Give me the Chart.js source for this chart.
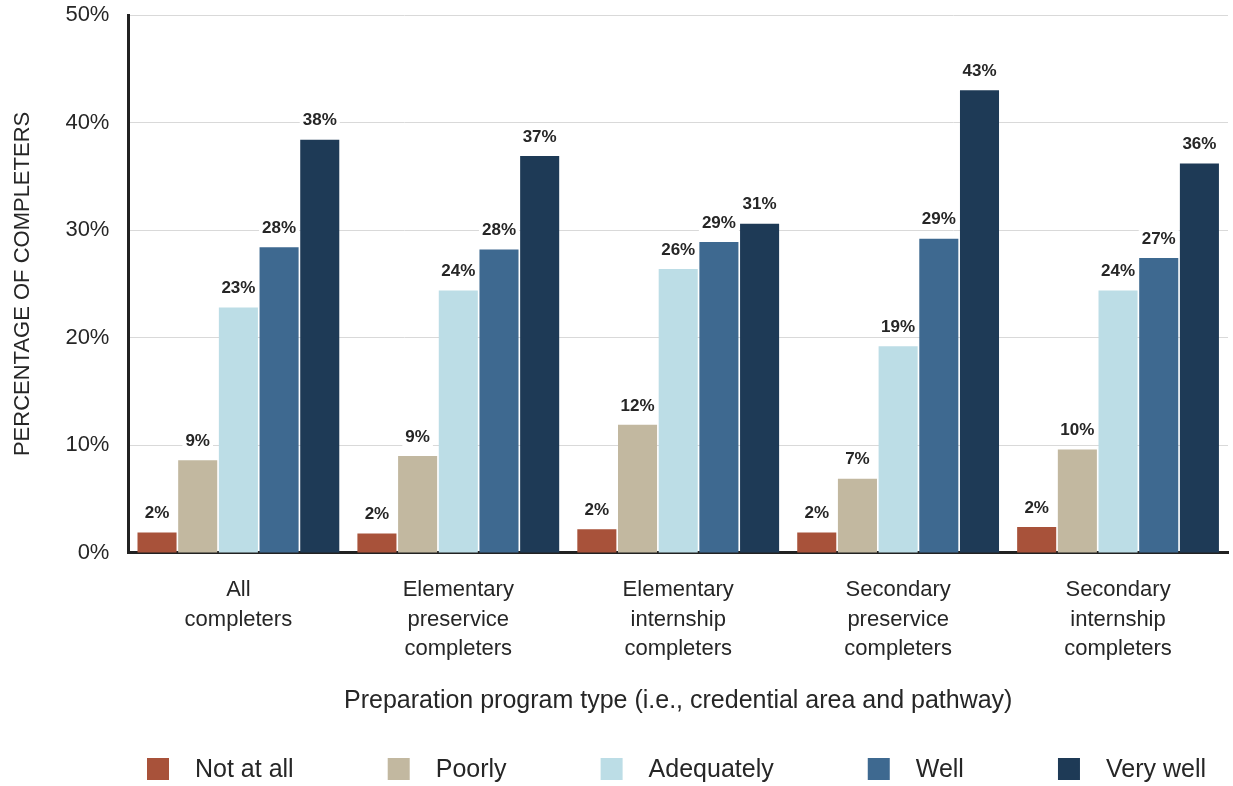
<!DOCTYPE html>
<html>
<head>
<meta charset="utf-8">
<script src="https://cdn.jsdelivr.net/npm/chart.js@4"></script>
<style>
  html, body { margin: 0; padding: 0; background: #fff; }
  #wrap { width: 1233px; height: 786px; }
</style>
</head>
<body>
<div id="wrap"><canvas id="chart"></canvas></div>
<script>
const programs = [
  ['All', 'completers'],
  ['Elementary', 'preservice', 'completers'],
  ['Elementary', 'internship', 'completers'],
  ['Secondary', 'preservice', 'completers'],
  ['Secondary', 'internship', 'completers']
]
const ratings = ['Not at all', 'Poorly', 'Adequately', 'Well', 'Very well']
const notAtAll   = [1.9, 1.8, 2.2, 1.9, 2.4]
const poorly     = [8.6, 9.0, 11.9, 6.9, 9.6]
const adequately = [22.8, 24.4, 26.4, 19.2, 24.4]
const well       = [28.4, 28.2, 28.9, 29.2, 27.4]
const veryWell   = [38.4, 36.9, 30.6, 43.0, 36.2]
const colors = ['#a8523a', '#c2b8a0', '#bcdde6', '#3e6990', '#1e3a56']

const FONT = "'Liberation Sans', Arial, sans-serif"
const TEXT = '#262626'

// value labels sit above each bar on a white patch that hides the gridline
const barLabels = {
  id: 'barLabels',
  afterDatasetsDraw(chart) {
    const ctx = chart.ctx
    ctx.save()
    ctx.font = 'bold 17px ' + FONT
    ctx.textAlign = 'center'
    ctx.textBaseline = 'middle'
    chart.data.datasets.forEach((ds, i) => {
      chart.getDatasetMeta(i).data.forEach((bar, j) => {
        const txt = Math.round(ds.data[j]) + '%'
        const w = ctx.measureText(txt).width
        const y = bar.y - 19
        ctx.fillStyle = '#fff'
        ctx.fillRect(bar.x - w / 2 - 3, y - 9, w + 6, 18)
        ctx.fillStyle = TEXT
        ctx.fillText(txt, bar.x, y)
      })
    })
    ctx.restore()
  }
}

// single-row legend along the bottom, spread across the plot width
const bottomLegend = {
  id: 'bottomLegend',
  afterDraw(chart) {
    const ctx = chart.ctx
    const box = 22, gap = 26, span = 1059, cy = 769
    ctx.save()
    ctx.font = '25px ' + FONT
    ctx.textBaseline = 'middle'
    const widths = chart.data.datasets.map(ds => ctx.measureText(ds.label).width)
    const used = widths.reduce((a, w) => a + box + gap + w, 0)
    const between = (span - used) / (widths.length - 1)
    let x = 147
    chart.data.datasets.forEach((ds, i) => {
      ctx.fillStyle = ds.backgroundColor
      ctx.fillRect(x, cy - box / 2, box, box)
      ctx.fillStyle = TEXT
      ctx.fillText(ds.label, x + box + gap, cy + 1)
      x += box + gap + widths[i] + between
    })
    ctx.restore()
  }
}

new Chart(document.getElementById('chart'), {
  type: 'bar',
  data: {
    labels: programs,
    datasets: [notAtAll, poorly, adequately, well, veryWell].map((d, i) => ({
      label: ratings[i],
      data: d,
      backgroundColor: colors[i],
      categoryPercentage: 0.925,
      barPercentage: 0.96
    }))
  },
  options: {
    responsive: true,
    maintainAspectRatio: false,
    animation: false,
    layout: { padding: { top: 0, right: 5, left: 10, bottom: 45 } },
    scales: {
      x: {
        grid: { display: false, drawTicks: false },
        border: { color: '#222', width: 3 },
        ticks: {
          color: TEXT,
          font: { family: FONT, size: 22, lineHeight: 1.32 },
          padding: 23,
          maxRotation: 0
        },
        title: {
          display: true,
          text: 'Preparation program type (i.e., credential area and pathway)',
          color: TEXT,
          font: { family: FONT, size: 25 },
          padding: { top: 0, bottom: 25 }
        }
      },
      y: {
        min: 0,
        max: 50,
        grid: { color: '#d9d9d9', lineWidth: 1, drawTicks: false },
        border: { color: '#222', width: 3 },
        ticks: {
          stepSize: 10,
          color: TEXT,
          font: { family: FONT, size: 22 },
          padding: 19,
          callback: v => v + '%'
        },
        // tick padding would otherwise push the plot top down as well
        afterFit(scale) {
          scale.paddingTop = 15
        },
        title: {
          display: true,
          text: 'PERCENTAGE OF COMPLETERS',
          color: TEXT,
          font: { family: FONT, size: 22 },
          padding: { top: 0, bottom: 10 }
        }
      }
    },
    plugins: {
      legend: { display: false },
      tooltip: { enabled: false }
    }
  },
  plugins: [barLabels, bottomLegend]
})
</script>
</body>
</html>
